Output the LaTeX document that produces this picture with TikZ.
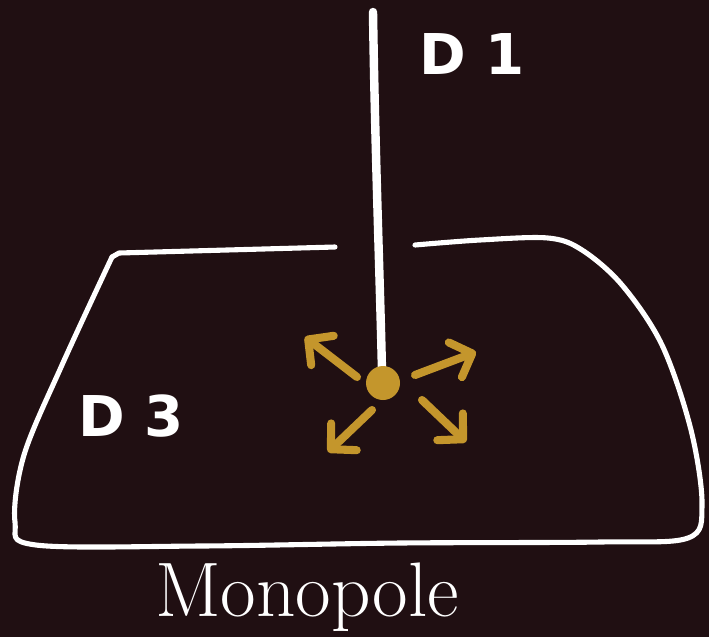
\documentclass[tikz,border=0pt]{standalone}
\usepackage{fontspec}
\usepackage{tikz}
\usetikzlibrary{positioning,arrows.meta}
\newfontfamily\handfont{DejaVu Sans}
\definecolor{MONOback}{HTML}{200F12}
\definecolor{MONOgold}{HTML}{C4962C}
\begin{document}
\begin{tikzpicture}[
  x=0.02cm, y=-0.02cm,
  every node/.style={text=white, inner sep=0pt},
  wire/.style={draw=white, line width=4.8pt, line cap=round},
  rim/.style ={draw=white, line width=2.9pt, line cap=round, line join=round},
  flux/.style={draw=MONOgold, line width=4.6pt, line cap=round,
               -{Straight Barb[length=3.6mm, width=7.4mm, round]}},
  tag/.style ={font=\handfont\bfseries\fontsize{32}{32}\selectfont},
  charge/.style={circle, fill=MONOgold, minimum size=0.68cm}]
\fill[MONOback] (0,0) rectangle (709,637);
\useasboundingbox (0,0) rectangle (709,637);
% pole and string
\coordinate (top) at (373,12);
\coordinate (foot) at (382,372);
\draw[wire] (top) .. controls (375,150) and (380,280) .. (foot);
\node[charge] (pole) at (383,383) {};
% the box, open at the top
\draw[rim] (335,247) -- (119,253) -- (112,257);
\draw[rim] plot[smooth, tension=0.55] coordinates {
  (112,257) (62,365) (24,455) (15,522) (36,545) (200,546) (400,543)
  (600,542) (688,538) (702,505) (691,430) (662,345) (622,285)
  (582,250) (548,238) (480,240) (415,245)};
% field lines
\foreach \n/\sx/\sy/\ex/\ey in {ul/357/377/305/337, ur/415/375/476/352,
                                  dr/422/400/466/442, dl/372/410/328/452} {
  \coordinate (s\n) at (\sx,\sy);
  \coordinate (e\n) at (\ex,\ey);
  \draw[flux] (s\n) -- (e\n);
}
\node[tag] (dOne)   at (472,54)  {D 1};
\node[tag] (dThree) at (131,416) {D 3};
\node[anchor=base, font=\fontsize{44}{44}\selectfont] (name) at (307,616) {Monopole};
\end{tikzpicture}
\end{document}
